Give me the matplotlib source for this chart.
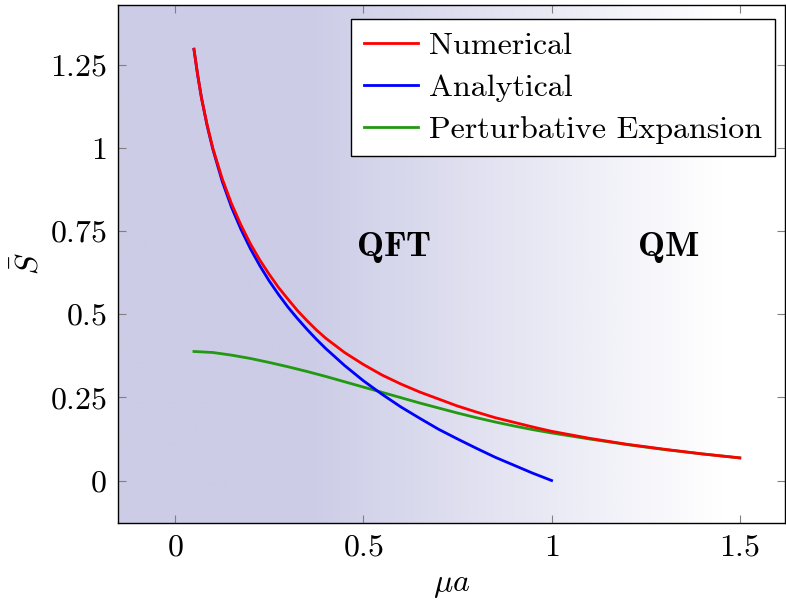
import numpy as np
import matplotlib
matplotlib.use("Agg")
import matplotlib.pyplot as plt
from matplotlib.colors import LinearSegmentedColormap

plt.rcParams["font.family"] = "serif"
plt.rcParams["font.serif"] = ["cmr10"]
plt.rcParams["mathtext.fontset"] = "cm"
plt.rcParams["axes.formatter.use_mathtext"] = True

# numerical result
mu_num = [0.05, 0.06, 0.07, 0.085, 0.1, 0.125, 0.15, 0.175, 0.2, 0.225, 0.25, 0.275,
          0.3, 0.325, 0.35, 0.375, 0.4, 0.45, 0.5, 0.55, 0.6, 0.65, 0.7, 0.75, 0.8,
          0.85, 0.9, 0.95, 1.0, 1.1, 1.2, 1.3, 1.4, 1.5]
s_num = [1.297, 1.22, 1.15, 1.07, 1.0, 0.908, 0.832, 0.768, 0.712, 0.663, 0.62, 0.58,
         0.545, 0.511, 0.481, 0.453, 0.428, 0.385, 0.349, 0.317, 0.290, 0.266, 0.245,
         0.224, 0.206, 0.189, 0.175, 0.161, 0.148, 0.127, 0.109, 0.094, 0.080, 0.068]

# analytical result
mu_ana = [0.05, 0.06, 0.07, 0.085, 0.1, 0.125, 0.15, 0.175, 0.2, 0.225, 0.25, 0.275,
          0.3, 0.325, 0.35, 0.375, 0.4, 0.45, 0.5, 0.55, 0.6, 0.65, 0.7, 0.75, 0.8,
          0.85, 0.9, 0.95, 1.0]
s_ana = [1.297, 1.218, 1.151, 1.067, 0.997, 0.90, 0.821, 0.755, 0.697, 0.646, 0.60,
         0.559, 0.521, 0.487, 0.455, 0.425, 0.397, 0.346, 0.30, 0.259, 0.221, 0.187,
         0.154, 0.125, 0.097, 0.070, 0.046, 0.022, 0.0]

# perturbative expansion
mu_pert = [0.05, 0.1, 0.15, 0.2, 0.25, 0.3, 0.35, 0.4, 0.45, 0.5, 0.55, 0.6, 0.65,
           0.7, 0.75, 0.8, 0.85, 0.9, 0.95, 1.0, 1.1, 1.2, 1.3, 1.4, 1.5]
s_pert = [0.388, 0.385, 0.377, 0.367, 0.355, 0.342, 0.328, 0.313, 0.297, 0.281, 0.265,
          0.249, 0.233, 0.218, 0.203, 0.189, 0.176, 0.164, 0.153, 0.143, 0.125, 0.108,
          0.093, 0.080, 0.068]

xlim = (-0.152, 1.62)
ylim = (-0.128, 1.43)

fig = plt.figure(figsize=(7.86, 6.04), dpi=100)
ax = fig.add_axes([0.150, 0.134, 0.8487, 0.8577])

# background shading: lavender on the QFT side fading to white towards QM
xs = np.linspace(xlim[0], xlim[1], 600)
frac = np.clip((xs - 0.35) / (1.45 - 0.35), 0, 1)
cmap = LinearSegmentedColormap.from_list("bg", ["#cccce7", "#ffffff"])
ax.imshow(frac[np.newaxis, :], cmap=cmap, vmin=0, vmax=1, aspect="auto",
          extent=[xlim[0], xlim[1], ylim[0], ylim[1]], zorder=0, interpolation="bilinear")

l3, = ax.plot(mu_pert, s_pert, color="#229911", lw=2, label="Perturbative Expansion", zorder=2)
l2, = ax.plot(mu_ana, s_ana, color="#0000ff", lw=2, label="Analytical", zorder=3)
l1, = ax.plot(mu_num, s_num, color="#ff0000", lw=2, label="Numerical", zorder=4)

ax.text(0.58, 0.70, r"$\mathbf{QFT}$", fontsize=26, ha="center", va="center")
ax.text(1.31, 0.70, r"$\mathbf{QM}$", fontsize=26, ha="center", va="center")

ax.set_xlim(*xlim)
ax.set_ylim(*ylim)
ax.set_xticks([0, 0.5, 1, 1.5])
ax.set_xticklabels(["$0$", "$0.5$", "$1$", "$1.5$"])
ax.set_yticks([0, 0.25, 0.5, 0.75, 1, 1.25])
ax.set_yticklabels(["$0$", "$0.25$", "$0.5$", "$0.75$", "$1$", "$1.25$"])
ax.tick_params(direction="in", length=6, width=0.8, color="#808080", labelsize=23,
               top=True, right=True, pad=8)
for sp in ax.spines.values():
    sp.set_linewidth(1.0)
    sp.set_color("black")

ax.set_xlabel(r"$\mu a$", fontsize=23, labelpad=8)
ax.set_ylabel(r"$\bar{S}$", fontsize=23, labelpad=4)

leg = ax.legend(handles=[l1, l2, l3], loc="upper right", bbox_to_anchor=(0.985, 0.973),
                borderaxespad=0, fontsize=23, fancybox=False, framealpha=1,
                edgecolor="black", handlelength=1.7, handletextpad=0.35,
                labelspacing=0.42, borderpad=0.4)
leg.get_frame().set_linewidth(1.0)

fig.savefig("out.png", dpi=100)
